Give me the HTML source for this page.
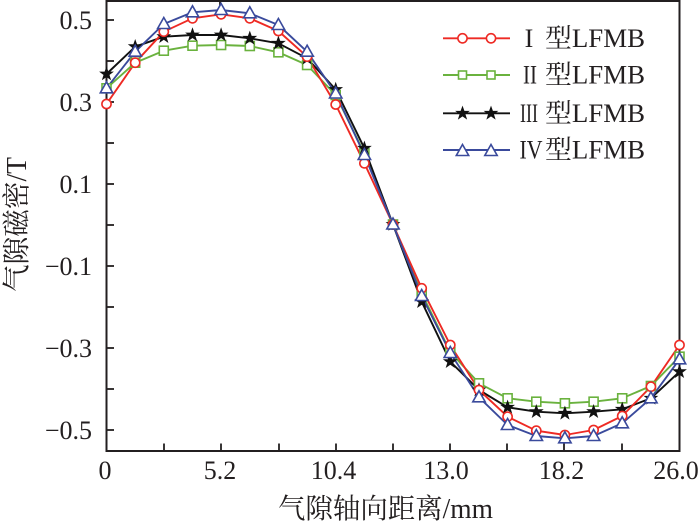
<!DOCTYPE html>
<html>
<head>
<meta charset="utf-8">
<style>
html,body{margin:0;padding:0;background:#fff;}
svg{display:block;}
text{font-family:"Liberation Serif","Noto Serif CJK SC",serif;fill:#231f20;}
.cjk{font-family:"Liberation Serif","Noto Serif CJK SC","Noto Sans CJK SC",serif;}
</style>
</head>
<body>
<svg width="700" height="522" viewBox="0 0 700 522" xmlns="http://www.w3.org/2000/svg">
<defs>
  <circle id="mc" r="4.6" fill="#fff" stroke="#ee2a24" stroke-width="1.6"/>
  <rect id="ms" x="-4.5" y="-4.5" width="9" height="9" fill="#fff" stroke="#6ab23e" stroke-width="1.6"/>
  <polygon id="mt" points="0,-6.5 6.2,4.5 -6.2,4.5" fill="#fff" stroke="#3a4a9c" stroke-width="1.6"/>
  <polygon id="mst" points="0,-6.5 1.6,-2 6.2,-2 2.5,0.8 3.9,5.3 0,2.6 -3.9,5.3 -2.5,0.8 -6.2,-2 -1.6,-2" fill="#111" stroke="#111" stroke-width="0.8"/>
</defs>

<!-- axes frame -->
<rect x="106.5" y="1" width="573" height="450" fill="none" stroke="#231f20" stroke-width="2"/>

<!-- left ticks -->
<g stroke="#231f20" stroke-width="1.8">
  <line x1="106.5" y1="20" x2="114" y2="20"/>
  <line x1="106.5" y1="61" x2="114" y2="61"/>
  <line x1="106.5" y1="102" x2="114" y2="102"/>
  <line x1="106.5" y1="143" x2="114" y2="143"/>
  <line x1="106.5" y1="184" x2="114" y2="184"/>
  <line x1="106.5" y1="225" x2="114" y2="225"/>
  <line x1="106.5" y1="266" x2="114" y2="266"/>
  <line x1="106.5" y1="307" x2="114" y2="307"/>
  <line x1="106.5" y1="348" x2="114" y2="348"/>
  <line x1="106.5" y1="389" x2="114" y2="389"/>
  <line x1="106.5" y1="430" x2="114" y2="430"/>
  <!-- bottom ticks -->
  <line x1="164" y1="451" x2="164" y2="443.5"/>
  <line x1="221" y1="451" x2="221" y2="443.5"/>
  <line x1="279" y1="451" x2="279" y2="443.5"/>
  <line x1="336" y1="451" x2="336" y2="443.5"/>
  <line x1="393" y1="451" x2="393" y2="443.5"/>
  <line x1="450" y1="451" x2="450" y2="443.5"/>
  <line x1="507" y1="451" x2="507" y2="443.5"/>
  <line x1="564" y1="451" x2="564" y2="443.5"/>
  <line x1="622" y1="451" x2="622" y2="443.5"/>
  <line x1="220" y1="1" x2="220" y2="6"/>
</g>

<!-- y tick labels -->
<g font-size="26" text-anchor="end">
  <text x="92" y="29">0.5</text>
  <text x="92" y="111">0.3</text>
  <text x="92" y="193">0.1</text>
  <text x="92" y="275">−0.1</text>
  <text x="92" y="357">−0.3</text>
  <text x="92" y="439">−0.5</text>
</g>

<!-- x tick labels -->
<g font-size="26" text-anchor="middle">
  <text x="105" y="479">0</text>
  <text x="220" y="479">5.2</text>
  <text x="333.5" y="479">10.4</text>
  <text x="446" y="479">13.0</text>
  <text x="561.5" y="479">18.2</text>
  <text x="676" y="479">26.0</text>
</g>

<!-- axis titles -->
<text class="cjk" x="278" y="518" font-size="28" textLength="215" lengthAdjust="spacingAndGlyphs">气隙轴向距离/mm</text>
<text class="cjk" transform="translate(26,224.5) rotate(-90)" x="0" y="0" font-size="28" text-anchor="middle" textLength="135" lengthAdjust="spacingAndGlyphs">气隙磁密/T</text>

<!-- series lines -->
<g fill="none" stroke-width="1.9" stroke-linejoin="round">
  <!-- II green -->
  <polyline stroke="#6ab23e" points="106.5,88.3 135.2,62.7 163.8,50.7 192.5,45.7 221.1,45 249.8,46 278.4,52.3 307.1,65 335.7,95 364.4,153.3 393,224.5 421.7,293.3 450.3,352 479,383.3 507.6,398.3 536.3,401.7 564.9,403.3 593.6,401.7 622.2,398.3 650.9,386 679.5,356.7"/>
  <!-- III black -->
  <polyline stroke="#111" points="106.5,74 135.2,46.7 163.8,36.7 192.5,35 221.1,35 249.8,38.3 278.4,43.3 307.1,58.3 335.7,89.5 364.4,148.3 393,224.5 421.7,301.7 450.3,361.7 479,390 507.6,407.3 536.3,411.7 564.9,413.3 593.6,411.7 622.2,409.3 650.9,398.3 679.5,371.7"/>
  <!-- I red -->
  <polyline stroke="#ee2a24" points="106.5,104 135.2,62.7 163.8,31.7 192.5,18.3 221.1,14.3 249.8,18.3 278.4,31 307.1,56.7 335.7,104.5 364.4,163.3 393,224.5 421.7,288.3 450.3,345 479,390 507.6,416.7 536.3,430.7 564.9,435 593.6,430 622.2,416 650.9,386.7 679.5,345"/>
  <!-- IV blue -->
  <polyline stroke="#3a4a9c" points="106.5,88.3 135.2,51.7 163.8,24 192.5,12.3 221.1,10 249.8,13.3 278.4,25 307.1,51.7 335.7,93.5 364.4,155 393,224.5 421.7,296 450.3,353 479,397.3 507.6,425 536.3,436 564.9,438.3 593.6,436 622.2,423.3 650.9,398.3 679.5,359.3"/>
</g>

<!-- markers green -->
<g>
<use href="#ms" x="106.5" y="88.3"/><use href="#ms" x="135.2" y="62.7"/><use href="#ms" x="163.8" y="50.7"/><use href="#ms" x="192.5" y="45.7"/><use href="#ms" x="221.1" y="45"/><use href="#ms" x="249.8" y="46"/><use href="#ms" x="278.4" y="52.3"/><use href="#ms" x="307.1" y="65"/><use href="#ms" x="335.7" y="95"/><use href="#ms" x="364.4" y="153.3"/><use href="#ms" x="393" y="224.5"/><use href="#ms" x="421.7" y="293.3"/><use href="#ms" x="450.3" y="352"/><use href="#ms" x="479" y="383.3"/><use href="#ms" x="507.6" y="398.3"/><use href="#ms" x="536.3" y="401.7"/><use href="#ms" x="564.9" y="403.3"/><use href="#ms" x="593.6" y="401.7"/><use href="#ms" x="622.2" y="398.3"/><use href="#ms" x="650.9" y="386"/><use href="#ms" x="679.5" y="356.7"/>
</g>
<!-- markers black stars -->
<g>
<use href="#mst" x="106.5" y="74"/><use href="#mst" x="135.2" y="46.7"/><use href="#mst" x="163.8" y="36.7"/><use href="#mst" x="192.5" y="35"/><use href="#mst" x="221.1" y="35"/><use href="#mst" x="249.8" y="38.3"/><use href="#mst" x="278.4" y="43.3"/><use href="#mst" x="307.1" y="58.3"/><use href="#mst" x="335.7" y="89.5"/><use href="#mst" x="364.4" y="148.3"/><use href="#mst" x="393" y="224.5"/><use href="#mst" x="421.7" y="301.7"/><use href="#mst" x="450.3" y="361.7"/><use href="#mst" x="479" y="390"/><use href="#mst" x="507.6" y="407.3"/><use href="#mst" x="536.3" y="411.7"/><use href="#mst" x="564.9" y="413.3"/><use href="#mst" x="593.6" y="411.7"/><use href="#mst" x="622.2" y="409.3"/><use href="#mst" x="650.9" y="398.3"/><use href="#mst" x="679.5" y="371.7"/>
</g>
<!-- markers red circles -->
<g>
<use href="#mc" x="106.5" y="104"/><use href="#mc" x="135.2" y="62.7"/><use href="#mc" x="163.8" y="31.7"/><use href="#mc" x="192.5" y="18.3"/><use href="#mc" x="221.1" y="14.3"/><use href="#mc" x="249.8" y="18.3"/><use href="#mc" x="278.4" y="31"/><use href="#mc" x="307.1" y="56.7"/><use href="#mc" x="335.7" y="104.5"/><use href="#mc" x="364.4" y="163.3"/><use href="#mc" x="393" y="224.5"/><use href="#mc" x="421.7" y="288.3"/><use href="#mc" x="450.3" y="345"/><use href="#mc" x="479" y="390"/><use href="#mc" x="507.6" y="416.7"/><use href="#mc" x="536.3" y="430.7"/><use href="#mc" x="564.9" y="435"/><use href="#mc" x="593.6" y="430"/><use href="#mc" x="622.2" y="416"/><use href="#mc" x="650.9" y="386.7"/><use href="#mc" x="679.5" y="345"/>
</g>
<!-- markers blue triangles -->
<g>
<use href="#mt" x="106.5" y="88.3"/><use href="#mt" x="135.2" y="51.7"/><use href="#mt" x="163.8" y="24"/><use href="#mt" x="192.5" y="12.3"/><use href="#mt" x="221.1" y="10"/><use href="#mt" x="249.8" y="13.3"/><use href="#mt" x="278.4" y="25"/><use href="#mt" x="307.1" y="51.7"/><use href="#mt" x="335.7" y="93.5"/><use href="#mt" x="364.4" y="155"/><use href="#mt" x="393" y="224.5"/><use href="#mt" x="421.7" y="296"/><use href="#mt" x="450.3" y="353"/><use href="#mt" x="479" y="397.3"/><use href="#mt" x="507.6" y="425"/><use href="#mt" x="536.3" y="436"/><use href="#mt" x="564.9" y="438.3"/><use href="#mt" x="593.6" y="436"/><use href="#mt" x="622.2" y="423.3"/><use href="#mt" x="650.9" y="398.3"/><use href="#mt" x="679.5" y="359.3"/>
</g>

<!-- legend -->
<g stroke-width="1.9">
  <line x1="443" y1="38.3" x2="510" y2="38.3" stroke="#ee2a24"/>
  <line x1="443" y1="75" x2="510" y2="75" stroke="#6ab23e"/>
  <line x1="443" y1="113.3" x2="510" y2="113.3" stroke="#111"/>
  <line x1="443" y1="150" x2="510" y2="150" stroke="#3a4a9c"/>
</g>
<use href="#mc" x="462.5" y="38.3"/><use href="#mc" x="491" y="38.3"/>
<rect x="458.5" y="71" width="8" height="8" fill="#fff" stroke="#6ab23e" stroke-width="1.6"/>
<rect x="487" y="71" width="8" height="8" fill="#fff" stroke="#6ab23e" stroke-width="1.6"/>
<use href="#mst" x="462.5" y="113.3"/><use href="#mst" x="491" y="113.3"/>
<use href="#mt" x="462.5" y="151"/><use href="#mt" x="491" y="151"/>

<g font-size="26">
  <text x="529" y="47" text-anchor="middle">I</text>
  <text x="530" y="83.7" text-anchor="middle" textLength="14" lengthAdjust="spacingAndGlyphs">II</text>
  <text x="529" y="122" text-anchor="middle" textLength="18" lengthAdjust="spacingAndGlyphs">III</text>
  <text x="531" y="158.7" text-anchor="middle" textLength="23" lengthAdjust="spacingAndGlyphs">IV</text>
  <text class="cjk" x="545" y="47" textLength="100" lengthAdjust="spacingAndGlyphs">型LFMB</text>
  <text class="cjk" x="545" y="83.7" textLength="100" lengthAdjust="spacingAndGlyphs">型LFMB</text>
  <text class="cjk" x="545" y="122" textLength="100" lengthAdjust="spacingAndGlyphs">型LFMB</text>
  <text class="cjk" x="545" y="158.7" textLength="100" lengthAdjust="spacingAndGlyphs">型LFMB</text>
</g>
</svg>
</body>
</html>
